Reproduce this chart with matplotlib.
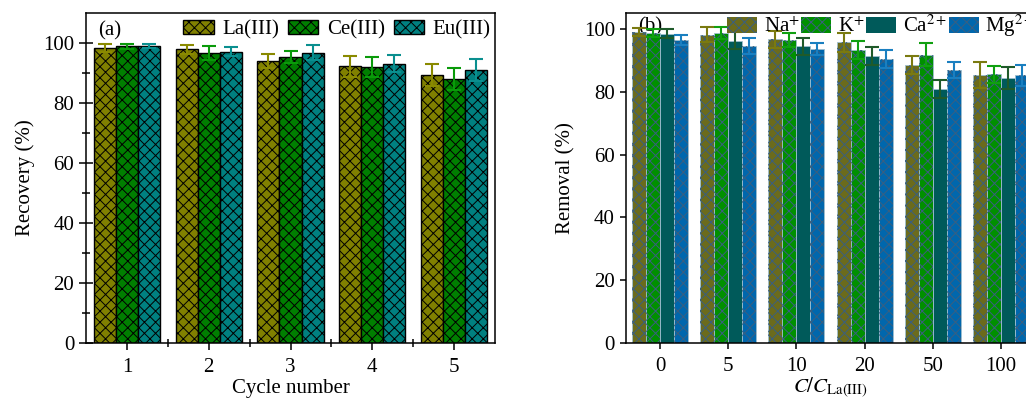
import matplotlib
matplotlib.use("Agg")
import matplotlib.pyplot as plt
import numpy as np
from matplotlib.patches import Patch

plt.rcParams['font.family'] = ['Liberation Serif', 'DejaVu Serif']
plt.rcParams['mathtext.fontset'] = 'stix'
plt.rcParams['hatch.linewidth'] = 0.7

# ---- Panel (a) data ----
cycles = ['1', '2', '3', '4', '5']
series_a = ['La(III)', 'Ce(III)', 'Eu(III)']
la_rec = [98.4, 97.9, 94.0, 92.3, 89.3]
ce_rec = [98.9, 96.7, 95.3, 91.9, 87.9]
eu_rec = [99.1, 97.1, 96.7, 93.1, 90.9]
la_err = [1.3, 1.4, 2.4, 3.5, 3.6]
ce_err = [0.9, 2.2, 2.1, 3.3, 3.7]
eu_err = [0.7, 1.5, 2.5, 2.9, 3.7]

# ---- Panel (b) data ----
ratios = ['0', '5', '10', '20', '50', '100']
series_b = ['Na$^{+}$', 'K$^{+}$', 'Ca$^{2+}$', 'Mg$^{2+}$']
na_rem = [99.2, 98.2, 96.8, 95.9, 88.6, 85.5]
k_rem = [98.8, 98.8, 96.5, 93.3, 91.9, 85.7]
ca_rem = [98.6, 96.4, 94.6, 91.5, 80.9, 84.5]
mg_rem = [96.6, 94.7, 93.7, 90.6, 87.0, 85.3]
na_err = [1.2, 2.4, 2.8, 3.0, 2.9, 4.2]
k_err = [1.2, 1.8, 2.2, 2.9, 3.6, 2.7]
ca_err = [1.4, 2.8, 2.7, 3.0, 2.9, 3.6]
mg_err = [1.6, 2.6, 2.0, 2.9, 2.6, 3.3]

fig = plt.figure(figsize=(10.26, 4.04), dpi=100)
W, H = 1026, 404
axa = fig.add_axes([86 / W, (H - 343) / H, 409 / W, 330 / H])
axb = fig.add_axes([626 / W, (H - 342.7) / H, 409 / W, 330 / H])

FS = 15

# ---- Panel (a) ----
cols_a = ['#808000', '#007f00', '#008080']
errc_a = ['#8a8a00', '#0a9a0a', '#0a8f8f']
vals_a = [la_rec, ce_rec, eu_rec]
errs_a = [la_err, ce_err, eu_err]
xa = np.arange(1, len(cycles) + 1)
bw_a = 0.27
for i in range(3):
    pos = xa + (i - 1) * bw_a
    axa.bar(pos, vals_a[i], bw_a, color=cols_a[i], edgecolor='black',
            linewidth=1.0, hatch='xxx', zorder=2)
    axa.errorbar(pos, vals_a[i], yerr=errs_a[i], fmt='none', ecolor=errc_a[i],
                 elinewidth=1.5, capsize=5, capthick=1.5, zorder=3)
axa.set_xlim(0.5, 5.5)
axa.set_ylim(0, 110)
axa.set_xticks(xa)
axa.set_xticklabels(cycles)
axa.set_xticks(np.arange(1.5, 5.0, 1.0), minor=True)
axa.set_yticks(np.arange(0, 101, 20))
axa.set_yticks(np.arange(10, 101, 20), minor=True)
axa.tick_params(axis='both', which='major', direction='inout', length=10,
                width=1.1, labelsize=FS)
axa.tick_params(axis='both', which='minor', direction='inout', length=6, width=1.1)
axa.tick_params(axis='x', which='major', pad=6)
axa.set_xlabel('Cycle number', fontsize=FS, labelpad=1)
axa.set_ylabel('Recovery (%)', fontsize=FS, labelpad=6)
for s in axa.spines.values():
    s.set_linewidth(1.1)
axa.text(0.03, 0.975, '(a)', transform=axa.transAxes, fontsize=FS,
         ha='left', va='top')
ha_handles = [Patch(facecolor=cols_a[i], edgecolor='black', hatch='xxx',
                    linewidth=1.0) for i in range(3)]
axa.legend(ha_handles, series_a, loc='upper left', bbox_to_anchor=(0.228, 0.99),
           ncol=3, frameon=False, fontsize=FS, handlelength=1.45,
           handleheight=0.65, handletextpad=0.4, columnspacing=0.45,
           borderpad=0.2, borderaxespad=0)

# ---- Panel (b) ----
cols_b = ['#6b6b1c', '#009000', '#005a5a', '#0067ad']
errc_b = ['#7a7a10', '#10a010', '#1f5a2a', '#1a7fc0']
hatches_b = ['xxx', 'xxx', None, 'xxx']
vals_b = [na_rem, k_rem, ca_rem, mg_rem]
errs_b = [na_err, k_err, ca_err, mg_err]
xb = np.arange(len(ratios))
bw_b = 0.205
hatch_col = '#3a5f80'
for i in range(4):
    pos = xb + (i - 1.5) * bw_b
    axb.bar(pos, vals_b[i], bw_b, color=cols_b[i], edgecolor='#9fbfcf',
            linewidth=0.6, zorder=2)
    if hatches_b[i]:
        axb.bar(pos, vals_b[i], bw_b, color='none', edgecolor=hatch_col,
                linewidth=0, hatch=hatches_b[i], zorder=2.1)
    axb.errorbar(pos, vals_b[i], yerr=errs_b[i], fmt='none', ecolor=errc_b[i],
                 elinewidth=1.5, capsize=5, capthick=1.5, zorder=3)
axb.set_xlim(-0.5, 5.5)
axb.set_ylim(0, 105.3)
axb.set_xticks(xb)
axb.set_xticklabels(ratios)
axb.set_yticks(np.arange(0, 101, 20))
axb.tick_params(axis='y', which='major', direction='out', length=4.5,
                width=1.1, labelsize=FS)
axb.tick_params(axis='x', which='major', direction='inout', length=8.5,
                width=1.1, labelsize=FS, pad=6)
axb.set_xlabel(r'$C/C_{\mathrm{La(III)}}$', fontsize=FS, labelpad=0)
axb.set_ylabel('Removal (%)', fontsize=FS, labelpad=6)
for s in axb.spines.values():
    s.set_linewidth(1.1)
axb.text(0.03, 0.985, '(b)', transform=axb.transAxes, fontsize=FS,
         ha='left', va='top', zorder=1)
hb_handles = []
for i in range(4):
    hb_handles.append(Patch(facecolor=cols_b[i], edgecolor=hatch_col if hatches_b[i] else cols_b[i],
                            hatch=hatches_b[i], linewidth=0))
axb.legend(hb_handles, series_b, loc='upper left', bbox_to_anchor=(0.237, 1.012),
           ncol=4, frameon=False, fontsize=FS, handlelength=1.45,
           handleheight=0.85, handletextpad=0.3, columnspacing=0.08,
           borderpad=0.2, borderaxespad=0)

fig.savefig('out.png', dpi=100)
